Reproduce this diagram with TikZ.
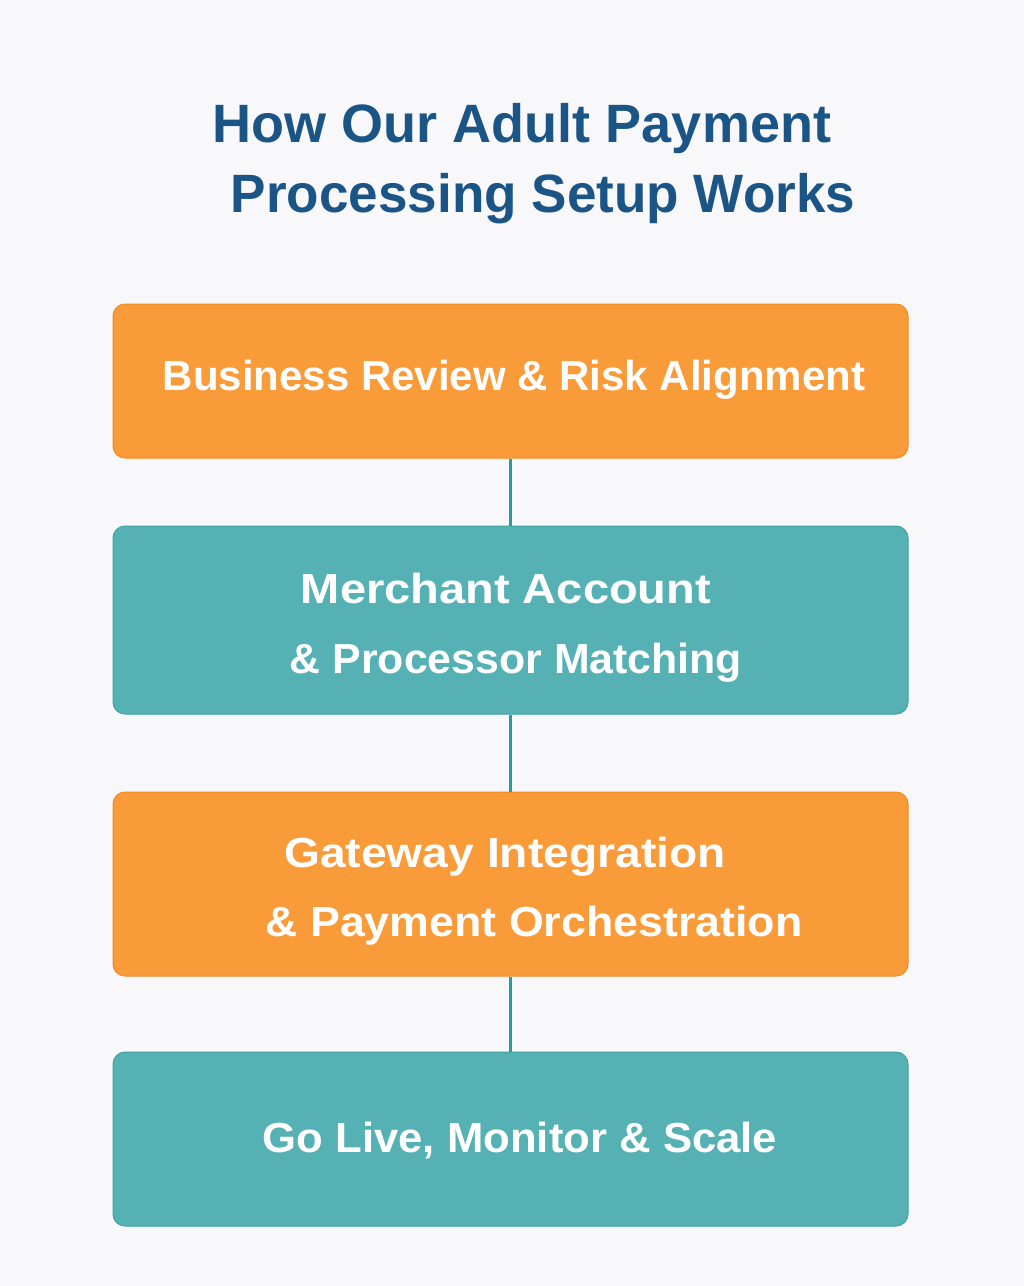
\documentclass[tikz,border=0pt]{standalone}
\usepackage{fontspec}
\usepackage{graphicx}
\setmainfont{Liberation Sans}
\definecolor{bgc}{HTML}{F8F7FA}
\definecolor{orangefill}{HTML}{FA9B3A}
\definecolor{orangeedge}{HTML}{F58A22}
\definecolor{tealfill}{HTML}{55B1B3}
\definecolor{tealedge}{HTML}{3FA2A5}
\definecolor{linkc}{HTML}{2A9CA0}
\definecolor{titlec}{HTML}{1B5586}
\tikzset{
  stepbox/.style={draw, line width=1pt, rounded corners=12pt, inner sep=0pt, minimum width=795pt},
  orangebox/.style={stepbox, fill=orangefill, draw=orangeedge},
  tealbox/.style={stepbox, fill=tealfill, draw=tealedge},
  boxtext/.style={anchor=base, inner sep=0pt, text=white, font=\fontsize{42}{48}\selectfont\bfseries},
  titletext/.style={anchor=base, inner sep=0pt, text=titlec, font=\fontsize{54}{60}\selectfont\bfseries},
  link/.style={draw=linkc, line width=2.5pt}
}
\begin{document}
\begin{tikzpicture}[x=1pt,y=-1pt]
\fill[bgc] (0,0) rectangle (1024,1286);
\useasboundingbox (0,0) rectangle (1024,1286);
% title
\node[titletext] (t1) at (522,142) {How Our Adult Payment};
\node[titletext] (t2) at (543,212) {\scalebox{0.983}[1]{Processing Setup Works}};
% boxes
\node[orangebox, minimum height=154pt] (b1) at (510.5,381) {};
\node[tealbox, minimum height=188pt] (b2) at (510.5,620) {};
\node[orangebox, minimum height=184pt] (b3) at (510.5,884) {};
\node[tealbox, minimum height=174pt] (b4) at (510.5,1139) {};
% connectors
\draw[link] (b1.south) -- (b2.north);
\draw[link] (b2.south) -- (b3.north);
\draw[link] (b3.south) -- (b4.north);
% texts
\node[boxtext] (l1) at (514,390) {Business Review \& Risk Alignment};
\node[boxtext] (l2a) at (506,603) {\scalebox{1.12}[1]{Merchant Account}};
\node[boxtext] (l2b) at (516,673) {\scalebox{1.02}[1]{\& Processor Matching}};
\node[boxtext] (l3a) at (505,867) {\scalebox{1.10}[1]{Gateway Integration}};
\node[boxtext] (l3b) at (534,936) {\scalebox{1.065}[1]{\& Payment Orchestration}};
\node[boxtext] (l4) at (520,1152) {\scalebox{1.04}[1]{Go Live, Monitor \& Scale}};
\end{tikzpicture}
\end{document}
